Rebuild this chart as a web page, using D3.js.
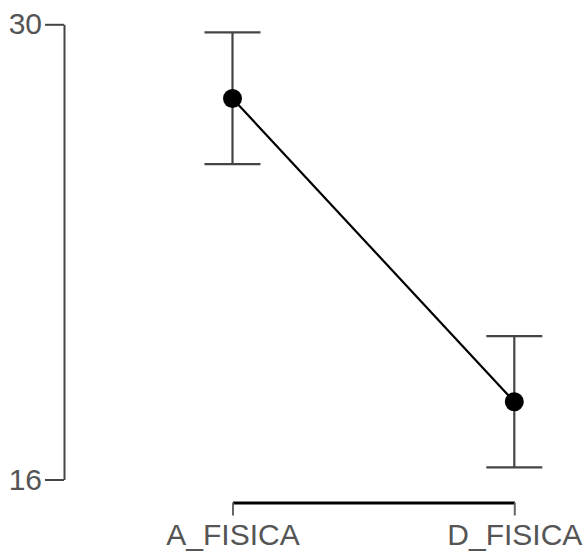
<!DOCTYPE html>
<html>
<head>
<meta charset="utf-8">
<script src="https://cdn.jsdelivr.net/npm/d3@7"></script>
<style>
  html, body { margin: 0; padding: 0; background: #fff; }
  svg { display: block; }
</style>
</head>
<body>
<script>
const categories = ["A_FISICA", "D_FISICA"];
const means = [27.72, 18.39];
const lower = [25.70, 16.37];
const upper = [29.75, 20.41];
const yTicks = [16, 30];

const W = 584, H = 552;
const svg = d3.select("body").append("svg").attr("width", W).attr("height", H);

const y = d3.scaleLinear().domain([16, 30]).range([479.5, 24.3]);
const x = d3.scalePoint().domain(categories).range([232.5, 514.3]);

const font = "'Liberation Sans', Arial, sans-serif";
const axisColor = "#444";

// Y axis
const yAxis = svg.append("g").attr("transform", "translate(64,0)")
  .call(d3.axisLeft(y).tickValues(yTicks).tickFormat(d3.format("d")).tickSize(19).tickSizeOuter(0).tickPadding(3));
yAxis.select(".domain").attr("stroke", axisColor).attr("stroke-width", 2);
yAxis.selectAll(".tick line").attr("stroke", axisColor).attr("stroke-width", 2);
yAxis.selectAll(".tick text").attr("font-family", font).attr("font-size", 30).attr("fill", "#555");

// X axis
const xAxis = svg.append("g").attr("transform", "translate(0,502.5)")
  .call(d3.axisBottom(x).tickSize(13).tickSizeOuter(0).tickPadding(8));
xAxis.select(".domain").attr("stroke", "#000").attr("stroke-width", 3);
xAxis.selectAll(".tick line").attr("stroke", "#666").attr("stroke-width", 2);
xAxis.selectAll(".tick text").attr("font-family", font).attr("font-size", 30).attr("fill", "#555");

const data = categories.map((c, i) => ({ c, m: means[i], lo: lower[i], hi: upper[i] }));

// Error bars
const eb = svg.append("g").attr("stroke", axisColor).attr("stroke-width", 2.2);
data.forEach(d => {
  eb.append("line").attr("x1", x(d.c)).attr("x2", x(d.c)).attr("y1", y(d.lo)).attr("y2", y(d.hi));
  eb.append("line").attr("x1", x(d.c) - 28).attr("x2", x(d.c) + 28).attr("y1", y(d.hi)).attr("y2", y(d.hi));
  eb.append("line").attr("x1", x(d.c) - 28).attr("x2", x(d.c) + 28).attr("y1", y(d.lo)).attr("y2", y(d.lo));
});

// Line
svg.append("path").datum(data)
  .attr("fill", "none").attr("stroke", "#000").attr("stroke-width", 2.2)
  .attr("d", d3.line().x(d => x(d.c)).y(d => y(d.m)));

// Points
svg.append("g").selectAll("circle").data(data).join("circle")
  .attr("cx", d => x(d.c)).attr("cy", d => y(d.m)).attr("r", 9.5).attr("fill", "#000");
</script>
</body>
</html>
